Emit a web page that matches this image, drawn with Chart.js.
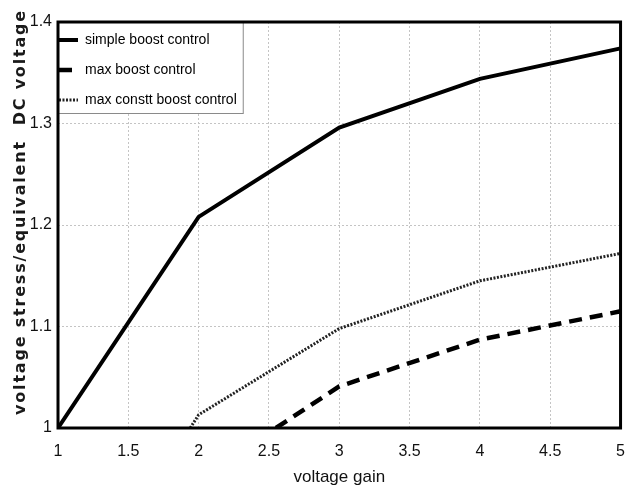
<!DOCTYPE html>
<html>
<head>
<meta charset="utf-8">
<title>Voltage stress vs voltage gain</title>
<script src="https://cdn.jsdelivr.net/npm/chart.js@4.4.1/dist/chart.umd.min.js"></script>
<style>
    body { margin: 0; background: #fff; }
    #wrap { width: 639px; height: 492px; }
</style>
</head>
<body>
<div id="wrap"><canvas id="stressChart" width="639" height="492"></canvas></div>
<script>
// Values
const xTicks = [1, 1.5, 2, 2.5, 3, 3.5, 4, 4.5, 5];
const yTicks = [1, 1.1, 1.2, 1.3, 1.4];
const seriesNames = ['simple boost control', 'max boost control', 'max constt boost control'];

const simpleGain = [1, 2, 3, 4, 5];
const simpleStress = [1, 1.208, 1.296, 1.344, 1.374];

const maxGain = [2.55, 3, 4, 5];
const maxStress = [1, 1.041, 1.087, 1.115];

const consttGain = [1.94, 2, 3, 4, 5];
const consttStress = [1, 1.013, 1.098, 1.145, 1.172];

const FONT = "'Liberation Sans', Arial, sans-serif";

function toPoints(xs, ys) {
    return xs.map((x, i) => ({ x: x, y: ys[i] }));
}

// legend samples should keep the dash of their dataset
function legendLabels(chart) {
    const items = Chart.defaults.plugins.legend.labels.generateLabels(chart);
    items.forEach(item => {
        const ds = chart.data.datasets[item.datasetIndex];
        item.lineDash = ds.borderDash || [];
        item.lineWidth = ds.borderWidth;
        item.strokeStyle = ds.borderColor;
    });
    return items;
}

// thick black box round the plot + white legend panel (matlab look)
const framePlugin = {
    id: 'frame',
    afterLayout(chart) {
        const area = chart.chartArea;
        const lg = chart.legend;
        if (lg) {
            const pad = lg.options.labels.padding;
            // pull the legend into the top-left corner
            lg.left = area.left - pad + 1;
            lg.top = area.top - 5;
            if (!lg._wrapped) {
                const origDraw = lg.draw.bind(lg);
                lg.draw = function () {
                    const ctx = chart.ctx;
                    const a = chart.chartArea;
                    const right = lg.left + pad + (lg.columnSizes[0] ? lg.columnSizes[0].width : 180) + 6;
                    const bottom = lg.top + pad + 2 * (14 + pad) + 7 + 13;
                    ctx.save();
                    ctx.fillStyle = '#fff';
                    ctx.fillRect(a.left, a.top, right - a.left, bottom - a.top);
                    ctx.strokeStyle = '#8a8a8a';
                    ctx.lineWidth = 1;
                    ctx.strokeRect(a.left + 0.5, a.top + 0.5, right - a.left, bottom - a.top);
                    ctx.restore();
                    origDraw();
                };
                lg._wrapped = true;
            }
        }
        // y title is spaced out and sits a bit above centre in the original
        const ys = chart.scales.y;
        if (ys && !ys._wrapped) {
            const origTitle = ys.drawTitle.bind(ys);
            ys.drawTitle = function () {
                const ctx = chart.ctx;
                ctx.save();
                ctx.letterSpacing = '1.8px';
                ctx.translate(0, -13);
                origTitle();
                ctx.restore();
            };
            ys._wrapped = true;
        }
    },
    afterDraw(chart) {
        const { ctx, chartArea: a } = chart;
        ctx.save();
        ctx.strokeStyle = '#000';
        ctx.lineWidth = 3;
        ctx.strokeRect(a.left, a.top, a.right - a.left, a.bottom - a.top);
        ctx.restore();
    }
};

function initStressChart() {
    const ctx = document.getElementById('stressChart').getContext('2d');
    return new Chart(ctx, {
        type: 'line',
        data: {
            datasets: [{
                label: seriesNames[0],
                data: toPoints(simpleGain, simpleStress),
                borderColor: '#000',
                borderWidth: 4
            }, {
                label: seriesNames[1],
                data: toPoints(maxGain, maxStress),
                borderColor: '#000',
                borderWidth: 4.5,
                borderDash: [13, 8]
            }, {
                label: seriesNames[2],
                data: toPoints(consttGain, consttStress),
                borderColor: '#222',
                borderWidth: 3,
                borderDash: [2, 1.5]
            }]
        },
        options: {
            responsive: false,
            animation: false,
            devicePixelRatio: 1,
            elements: {
                point: { radius: 0 },
                line: { tension: 0, borderCapStyle: 'butt' }
            },
            layout: {
                padding: { top: 22, right: 9, left: 0, bottom: 0 }
            },
            plugins: {
                tooltip: { enabled: false },
                legend: {
                    position: 'chartArea',
                    align: 'start',
                    labels: {
                        usePointStyle: true,
                        pointStyle: 'line',
                        pointStyleWidth: 19,
                        padding: 16,
                        color: '#000',
                        font: { family: FONT, size: 14 },
                        generateLabels: legendLabels
                    }
                }
            },
            scales: {
                x: {
                    type: 'linear',
                    min: 1,
                    max: 5,
                    afterBuildTicks: (scale) => {
                        scale.ticks = xTicks.map(v => ({ value: v }));
                    },
                    afterFit: (scale) => { scale.height = 64; },
                    grid: { color: '#c4c4c4', lineWidth: 1, drawTicks: false },
                    border: { display: false, dash: [2, 2] },
                    ticks: {
                        padding: 14,
                        color: '#111',
                        font: { family: FONT, size: 16 },
                        callback: (v) => String(v)
                    },
                    title: {
                        display: true,
                        text: 'voltage gain',
                        color: '#111',
                        font: { family: FONT, size: 17 },
                        padding: { top: 0, bottom: 4 }
                    }
                },
                y: {
                    type: 'linear',
                    min: 1,
                    max: 1.4,
                    afterBuildTicks: (scale) => {
                        scale.ticks = yTicks.map(v => ({ value: v }));
                    },
                    afterFit: (scale) => { scale.width = 58; },
                    grid: { color: '#c4c4c4', lineWidth: 1, drawTicks: false },
                    border: { display: false, dash: [2, 2] },
                    ticks: {
                        padding: 6,
                        color: '#111',
                        font: { family: FONT, size: 16 },
                        callback: (v) => String(v)
                    },
                    title: {
                        display: true,
                        text: 'voltage stress/equivalent  DC voltage',
                        color: '#1a1a1a',
                        font: { family: "'DejaVu Sans', sans-serif", size: 16, weight: 'bold' },
                        padding: { top: 11, bottom: 0 }
                    }
                }
            }
        },
        plugins: [framePlugin]
    });
}

initStressChart();
</script>
</body>
</html>
